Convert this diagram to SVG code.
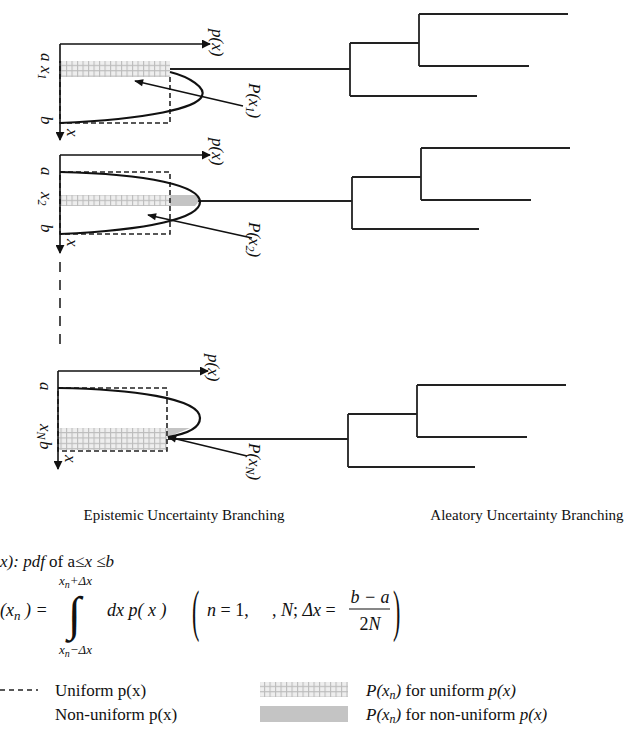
<svg xmlns="http://www.w3.org/2000/svg" width="629" height="730" viewBox="0 0 629 730">
<style>
.t{font-family:"Liberation Serif","Times New Roman",serif;fill:#111}
.i{font-style:italic}
.r{font-family:"Liberation Serif",serif;font-style:italic;font-size:17px;fill:#111}
.ax{stroke:#111;stroke-width:1.6;fill:none}
.dash{stroke:#222;stroke-width:1.6;fill:none;stroke-dasharray:5,3}
.cur{stroke:#111;stroke-width:2.2;fill:none}
.ln{stroke:#222;stroke-width:1.8;fill:none}
.hatch{fill:url(#grid)}
.grey{fill:#c4c4c4}
</style>
<defs>
<pattern id="grid" patternUnits="userSpaceOnUse" width="5.5" height="5.4">
<rect width="5.5" height="5.4" fill="#eeeeee"/>
<path d="M0,0.5H5.5M0.5,0V5.4" stroke="#bcbcbc" stroke-width="1.2"/>
</pattern>
<marker id="ah" viewBox="0 0 10 10" refX="9" refY="5" markerWidth="9" markerHeight="9" markerUnits="userSpaceOnUse" orient="auto">
<path d="M0,0L10,5L0,10Z" fill="#111"/>
</marker>
<marker id="ahs" viewBox="0 0 10 10" refX="9" refY="5" markerWidth="11" markerHeight="9" markerUnits="userSpaceOnUse" orient="auto">
<path d="M0,1L10,5L0,9Z" fill="#111"/>
</marker>
</defs>
<rect width="629" height="730" fill="#fff"/>

<g id="connectors">
<line class="ln" x1="170" y1="69" x2="350" y2="69"/>
<path class="ln" d="M350,43V96M350,43H419M350,96H477M419,14V66M419,14H568M419,66H529"/>
<line class="ln" x1="170" y1="201" x2="352" y2="201"/>
<path class="ln" d="M352,177V229M352,177H421M352,229H479M421,148V200M421,148H570M421,200H531"/>
<line class="ln" x1="168" y1="439" x2="348" y2="439"/>
<path class="ln" d="M348,414V467M348,414H417M348,467H475M417,385V437M417,385H566M417,437H527"/>
<line x1="60" y1="262" x2="60" y2="348" stroke="#222" stroke-width="1.6" stroke-dasharray="10,8"/>
</g>

<g id="branch1">
<rect class="hatch" x="60" y="61" width="110" height="16"/>
<path class="dash" d="M170,77V123H60V61"/>
<path class="cur" d="M170,72C190,77 206,88 202,96C197,108 150,119 60,123"/>
<line class="ax" x1="60" y1="44" x2="60" y2="140" marker-end="url(#ah)"/>
<line class="ax" x1="60" y1="44" x2="210" y2="44" marker-end="url(#ah)"/>
<line class="ax" x1="243" y1="106" x2="135" y2="81" stroke-width="2" marker-end="url(#ahs)"/>
<text class="r" transform="translate(41,53) rotate(90)">a</text>
<text class="r" transform="translate(41,66) rotate(90)">x<tspan font-size="12" dy="3">1</tspan></text>
<text class="r" transform="translate(41,116) rotate(90)">b</text>
<text class="r" transform="translate(67,129) rotate(90)">x</text>
<text class="r" transform="translate(212,29) rotate(90)">p(x)</text>
<text class="r" transform="translate(249,83) rotate(90)">P(x<tspan font-size="12" dy="3">1</tspan><tspan dy="-3">)</tspan></text>
</g>

<g id="branch2">
<rect class="hatch" x="60" y="195" width="110" height="11"/>
<path class="grey" d="M170,195L195,195Q202,200 195,206L170,206Z"/>
<path class="dash" d="M60,172H170V234H60Z"/>
<path class="cur" d="M60,172C150,174 200,186 200,202C200,218 150,230 60,234"/>
<line class="ax" x1="60" y1="155" x2="60" y2="253" marker-end="url(#ah)"/>
<line class="ax" x1="60" y1="155" x2="210" y2="155" marker-end="url(#ah)"/>
<line class="ax" x1="252" y1="238" x2="148" y2="215" stroke-width="2" marker-end="url(#ahs)"/>
<text class="r" transform="translate(41,167) rotate(90)">a</text>
<text class="r" transform="translate(41,192) rotate(90)">x<tspan font-size="12" dy="3">2</tspan></text>
<text class="r" transform="translate(41,224) rotate(90)">b</text>
<text class="r" transform="translate(67,239) rotate(90)">x</text>
<text class="r" transform="translate(212,138) rotate(90)">p(x)</text>
<text class="r" transform="translate(249,222) rotate(90)">P(x<tspan font-size="12" dy="3">2</tspan><tspan dy="-3">)</tspan></text>
</g>

<g id="branchN">
<rect class="hatch" x="58" y="428" width="109" height="22"/>
<path class="grey" d="M167,428L190,428L168,437Z"/>
<path class="dash" d="M58,388H167V451H58Z"/>
<path class="cur" d="M58,388C130,389 200,398 200,418C200,428 186,434 168,437"/>
<line class="ax" x1="58" y1="371" x2="58" y2="469" marker-end="url(#ah)"/>
<line class="ax" x1="58" y1="371" x2="208" y2="371" marker-end="url(#ah)"/>
<line class="ax" x1="247" y1="456" x2="168" y2="437" stroke-width="2" marker-end="url(#ahs)"/>
<text class="r" transform="translate(40,382) rotate(90)">a</text>
<text class="r" transform="translate(40,424) rotate(90)">x<tspan font-size="12" dy="3">N</tspan></text>
<text class="r" transform="translate(40,441) rotate(90)">b</text>
<text class="r" transform="translate(65,455) rotate(90)">x</text>
<text class="r" transform="translate(208,354) rotate(90)">p(x)</text>
<text class="r" transform="translate(249,443) rotate(90)">P(x<tspan font-size="12" dy="3">N</tspan><tspan dy="-3">)</tspan></text>
</g>

<g id="captions">
<text class="t" font-size="15" x="184" y="520" text-anchor="middle">Epistemic Uncertainty Branching</text>
<text class="t" font-size="15" x="527" y="520" text-anchor="middle">Aleatory Uncertainty Branching</text>
</g>

<g id="formula">
<text class="t" font-size="17" x="0" y="567"><tspan class="i">x):</tspan>  <tspan class="i">pdf</tspan> of a≤<tspan class="i">x</tspan> ≤<tspan class="i">b</tspan></text>
<text class="t i" font-size="13" x="59" y="585">x<tspan font-size="10" dy="3">n</tspan><tspan dy="-3">+Δx</tspan></text>
<text class="t i" font-size="13" x="59" y="654">x<tspan font-size="10" dy="3">n</tspan><tspan dy="-3">−Δx</tspan></text>
<text class="t i" font-size="18" x="0" y="616">(x<tspan font-size="13" dy="4">n</tspan><tspan dy="-4"> ) =</tspan></text>
<text class="t i" font-size="48" x="68" y="630">∫</text>
<text class="t i" font-size="18" x="107" y="616">dx  p( x )</text>
<text class="t" font-size="22" transform="translate(192,630) scale(1,2.6)">(</text>
<text class="t" font-size="18" x="207" y="616"><tspan class="i">n</tspan> = 1,</text>
<text class="t" font-size="18" x="272" y="616">, <tspan class="i">N</tspan>; <tspan class="i">Δx</tspan> =</text>
<text class="t i" font-size="18" x="370" y="603" text-anchor="middle">b − a</text>
<line x1="349" y1="609" x2="390" y2="609" stroke="#111" stroke-width="1.2"/>
<text class="t" font-size="18" x="370" y="630" text-anchor="middle">2<tspan class="i">N</tspan></text>
<text class="t" font-size="22" transform="translate(393,630) scale(1,2.6)">)</text>
</g>

<g id="legend">
<line x1="0" y1="690" x2="38" y2="690" stroke="#222" stroke-width="1.3" stroke-dasharray="5,4"/>
<text class="t" font-size="17" x="55" y="696">Uniform p(x)</text>
<text class="t" font-size="17" x="55" y="720">Non-uniform p(x)</text>
<rect class="hatch" x="260" y="682" width="88" height="15"/>
<rect class="grey" x="260" y="706" width="88" height="16"/>
<text class="t" font-size="17" x="366" y="696"><tspan class="i">P(x<tspan font-size="12" dy="3">n</tspan><tspan dy="-3">)</tspan></tspan>  for uniform <tspan class="i">p(x)</tspan></text>
<text class="t" font-size="17" x="366" y="720"><tspan class="i">P(x<tspan font-size="12" dy="3">n</tspan><tspan dy="-3">)</tspan></tspan>  for non-uniform <tspan class="i">p(x)</tspan></text>
</g>
</svg>
